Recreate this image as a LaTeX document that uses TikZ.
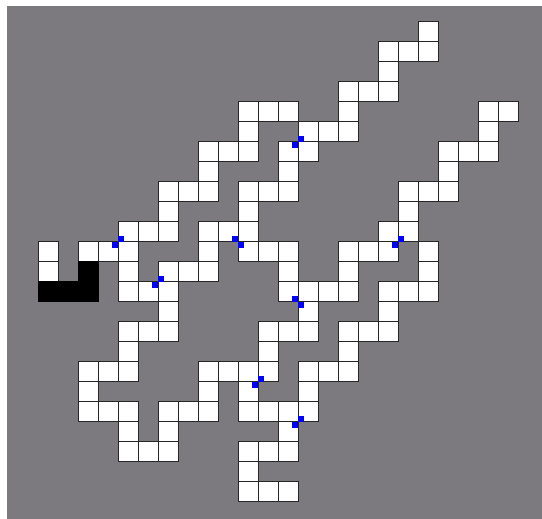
\documentclass[tikz,border=0pt]{standalone}
\definecolor{bg}{RGB}{124,122,127}
\begin{document}
\begin{tikzpicture}[x=1pt,y=-1pt,
  cell/.style={fill=white,draw=black!85,line width=0.8pt},
  blk/.style={fill=black,draw=black,line width=0.8pt},
  bluemark/.style={fill=blue}]
\useasboundingbox (0,0) rectangle (542,519);
\fill[bg] (7,6) rectangle (542,519);
% white cells: row / columns
\foreach \r/\cs in {0/{19},1/{17,18,19},2/{17},3/{15,16,17},
  4/{10,11,12,15,22,23},5/{10,13,14,15,22},6/{8,9,10,12,13,20,21,22},
  7/{8,12,20},8/{6,7,8,10,11,12,18,19,20},9/{6,10,18},
  10/{4,5,6,8,9,10,17,18},11/{0,2,3,4,8,10,11,12,15,16,17,19},
  12/{0,4,6,7,8,12,15,19},13/{4,5,6,12,13,14,15,17,18,19},
  14/{6,13,17},15/{4,5,6,11,12,13,15,16,17},16/{4,11,15},
  17/{2,3,4,8,9,10,11,13,14,15},18/{2,8,10,13},
  19/{2,3,4,6,7,8,10,11,12,13},20/{4,6,12},21/{4,5,6,10,11,12},
  22/{10},23/{10,11,12}}
  {\foreach \c in \cs
    {\draw[cell] ({38.3+20*\c},{21.7+20*\r}) rectangle ++(20,20);}}
% black L-shaped block
\draw[blk] (78.3,261.7) -- (98.3,261.7) -- (98.3,301.7) -- (38.3,301.7)
  -- (38.3,281.7) -- (78.3,281.7) -- cycle;
% blue diagonal markers at cell corners
\foreach \c/\r/\s in {13/6/1,4/11/1,10/11/-1,18/11/1,6/13/1,13/14/-1,11/18/1,13/20/1}
  {\fill[bluemark] ({38.3+20*\c},{21.7+20*\r}) rectangle ++({6*\s},-6);
   \fill[bluemark] ({38.3+20*\c},{21.7+20*\r}) rectangle ++({-6*\s},6);}
\end{tikzpicture}
\end{document}
